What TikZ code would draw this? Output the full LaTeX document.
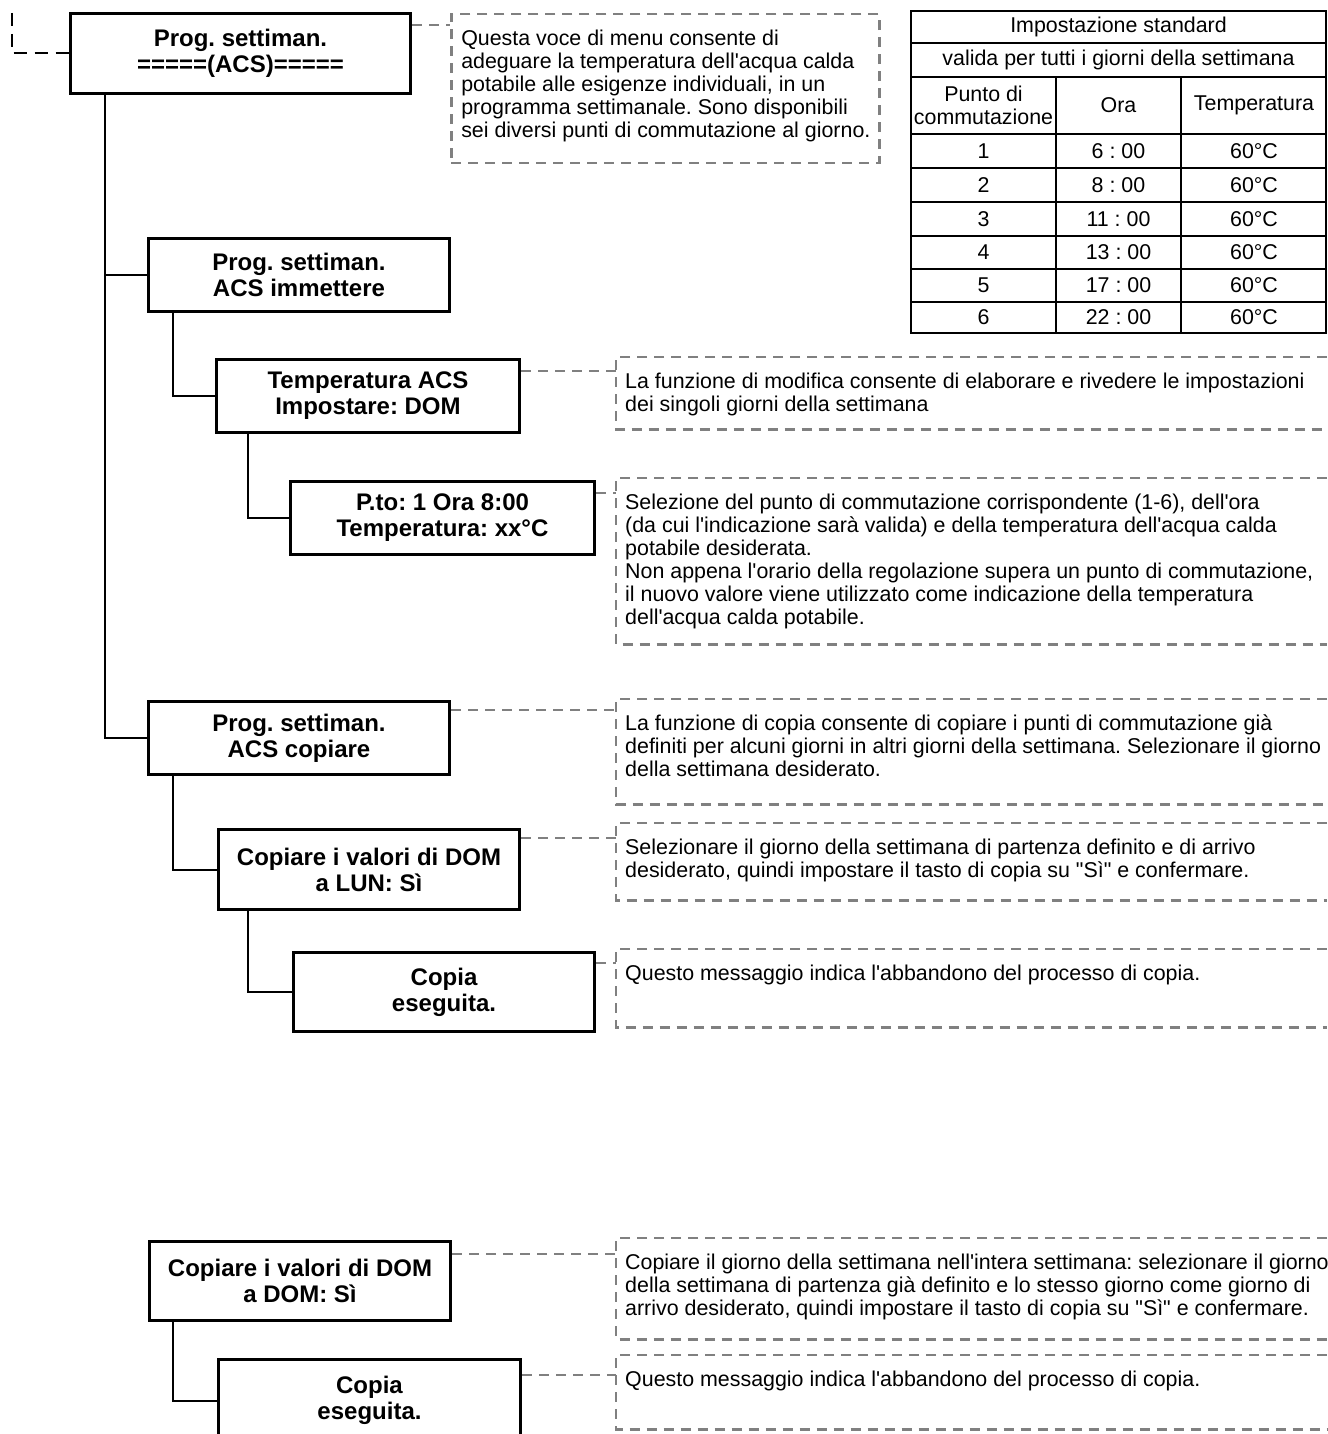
\documentclass[tikz,border=0pt]{standalone}
\usepackage{fontspec}
\setmainfont{Liberation Sans}[Ligatures=TeXOff]
\usepackage{xcolor}
\usetikzlibrary{positioning}

\definecolor{notegray}{RGB}{128,128,128}
\newcommand{\boxfont}{\fontsize{24}{26}\selectfont\bfseries}
\newcommand{\notefont}{\fontsize{21.4}{23}\selectfont}
\newcommand{\notetext}[3]{\parbox[t][#2][t]{#1}{\rule{0pt}{31pt}\begin{tabular}[t]{@{}l@{}}#3\end{tabular}}}
\frenchspacing

\tikzset{
    menubox/.style={draw, line width=3pt, anchor=north west, inner sep=0pt, align=center, font=\boxfont},
    branch/.style={line width=2pt},
    notelink/.style={draw=notegray, line width=2.5pt, dash pattern=on 10pt off 7pt},
    parentlink/.style={line width=2pt, dash pattern=on 13pt off 8pt},
    note/.style={anchor=north west, inner xsep=9pt, inner ysep=0pt, font=\notefont},
    cell/.style={inner sep=0pt, align=center, font=\notefont},
    grid/.style={line width=2pt}
}

\begin{document}
\frenchspacing
\begin{tikzpicture}[x=1pt, y=-1pt]
                \useasboundingbox (0,0) rectangle (1327,1434);

                % menu boxes
                \node[menubox, minimum width=340pt, minimum height=80pt] (b1) at (69,12) {Prog. settiman.\\=====(ACS)=====};
                \node[menubox, minimum width=301pt, minimum height=73pt] (b2) at (147,237) {Prog. settiman.\\ACS immettere};
                \node[menubox, minimum width=303pt, minimum height=73pt] (b3) at (215,358) {Temperatura ACS\\Impostare: DOM};
                \node[menubox, minimum width=304pt, minimum height=73pt] (b4) at (289,480) {P.to: 1 Ora 8:00\\Temperatura: xx°C};
                \node[menubox, minimum width=301pt, minimum height=73pt] (b5) at (147,700) {Prog. settiman.\\ACS copiare};
                \node[menubox, minimum width=301pt, minimum height=80pt] (b6) at (217,828) {Copiare i valori di DOM\\a LUN: Sì};
                \node[menubox, minimum width=301pt, minimum height=79pt] (b7) at (292,951) {Copia\\eseguita.};
                \node[menubox, minimum width=301pt, minimum height=79pt] (b8) at (148,1240) {Copiare i valori di DOM\\a DOM: Sì};
                \node[menubox, minimum width=302pt, minimum height=82pt] (b9) at (217,1358) {Copia\\eseguita.};

                % tree
                \coordinate (up) at (12,13);
                \draw[parentlink] (up) |- (b1.west);
                \draw[branch] ([xshift=36pt]b1.south west) |- (b2.west);
                \draw[branch] ([xshift=36pt]b1.south west) |- (b5.west);
                \draw[branch] ([xshift=26pt]b2.south west) |- (b3.west);
                \draw[branch] ([xshift=33pt]b3.south west) |- (b4.west);
                \draw[branch] ([xshift=26pt]b5.south west) |- (b6.west);
                \draw[branch] ([xshift=31pt]b6.south west) |- (b7.west);
                \draw[branch] ([xshift=25pt]b8.south west) |- (b9.west);

                % notes
                \node[note, notelink, inner xsep=10pt] (n1) at (450,13) {\notetext{408pt}{149pt}{Questa voce di menu consente di\\adeguare la temperatura dell'acqua calda\\potabile alle esigenze individuali, in un\\programma settimanale. Sono disponibili\\sei diversi punti di commutazione al giorno.}};
                \node[note] (n2) at (616,357) {\notetext{690pt}{72pt}{La funzione di modifica consente di elaborare e rivedere le impostazioni\\dei singoli giorni della settimana}};
                \node[note] (n3) at (616,478) {\notetext{690pt}{166pt}{Selezione del punto di commutazione corrispondente (1-6), dell'ora\\(da cui l'indicazione sarà valida) e della temperatura dell'acqua calda\\potabile desiderata.\\Non appena l'orario della regolazione supera un punto di commutazione,\\il nuovo valore viene utilizzato come indicazione della temperatura\\dell'acqua calda potabile.}};
                \node[note] (n4) at (616,699) {\notetext{690pt}{105pt}{La funzione di copia consente di copiare i punti di commutazione già\\definiti per alcuni giorni in altri giorni della settimana. Selezionare il giorno\\della settimana desiderato.}};
                \node[note] (n5) at (616,823) {\notetext{690pt}{77pt}{Selezionare il giorno della settimana di partenza definito e di arrivo\\desiderato, quindi impostare il tasto di copia su "Sì" e confermare.}};
                \node[note] (n6) at (616,949) {\notetext{690pt}{78pt}{Questo messaggio indica l'abbandono del processo di copia.}};
                \node[note] (n7) at (616,1238) {\notetext{690pt}{101pt}{Copiare il giorno della settimana nell'intera settimana: selezionare il giorno\\della settimana di partenza già definito e lo stesso giorno come giorno di\\arrivo desiderato, quindi impostare il tasto di copia su "Sì" e confermare.}};
                \node[note] (n8) at (616,1355) {\notetext{690pt}{74pt}{Questo messaggio indica l'abbandono del processo di copia.}};

                \coordinate (rim) at (1327,0);
                \foreach \nt in {n2,n3,n4,n5,n6,n7,n8}
                    \draw[notelink] (\nt.north west -| rim) -- (\nt.north west) -- (\nt.south west) -- (\nt.south west -| rim);

                \foreach \bx/\nt/\d in {b1/n1/13, b3/n2/13, b4/n3/13, b5/n4/10, b6/n5/10, b7/n6/12, b8/n7/14, b9/n8/17}
                    \draw[notelink] ([yshift=-\d pt]\bx.north east) -- ([yshift=-\d pt]\bx.north east -| \nt.west);

                % table
                \draw[grid] (911,11) rectangle (1326,333);
                \foreach \y in {43,77,134,168,202,236,269,302}
                    \draw[grid] (911,\y) -- (1326,\y);
                \draw[grid] (1056,77) -- (1056,333);
                \draw[grid] (1181,77) -- (1181,333);
                \node[cell] (t1) at (1118.5,27) {Impostazione standard};
                \node[cell] (t2) at (1118.5,60) {valida per tutti i giorni della settimana};
                \node[cell] (h1) at (983.5,105.5) {Punto di\\commutazione};
                \node[cell] (h2) at (1118.5,105.5) {Ora};
                \node[cell] (h3) at (1254,105.5) {Temperatura};
                \foreach \i/\t/\y in {1/6 : 00/151, 2/8 : 00/185, 3/11 : 00/219, 4/13 : 00/252.5, 5/17 : 00/285.5, 6/22 : 00/317.5} {
                    \node[cell] (p\i) at (983.5,\y) {\i};
                    \node[cell] (o\i) at (1118.5,\y) {\t};
                    \node[cell] (c\i) at (1254,\y) {60°C};
                }
\end{tikzpicture}
\end{document}
